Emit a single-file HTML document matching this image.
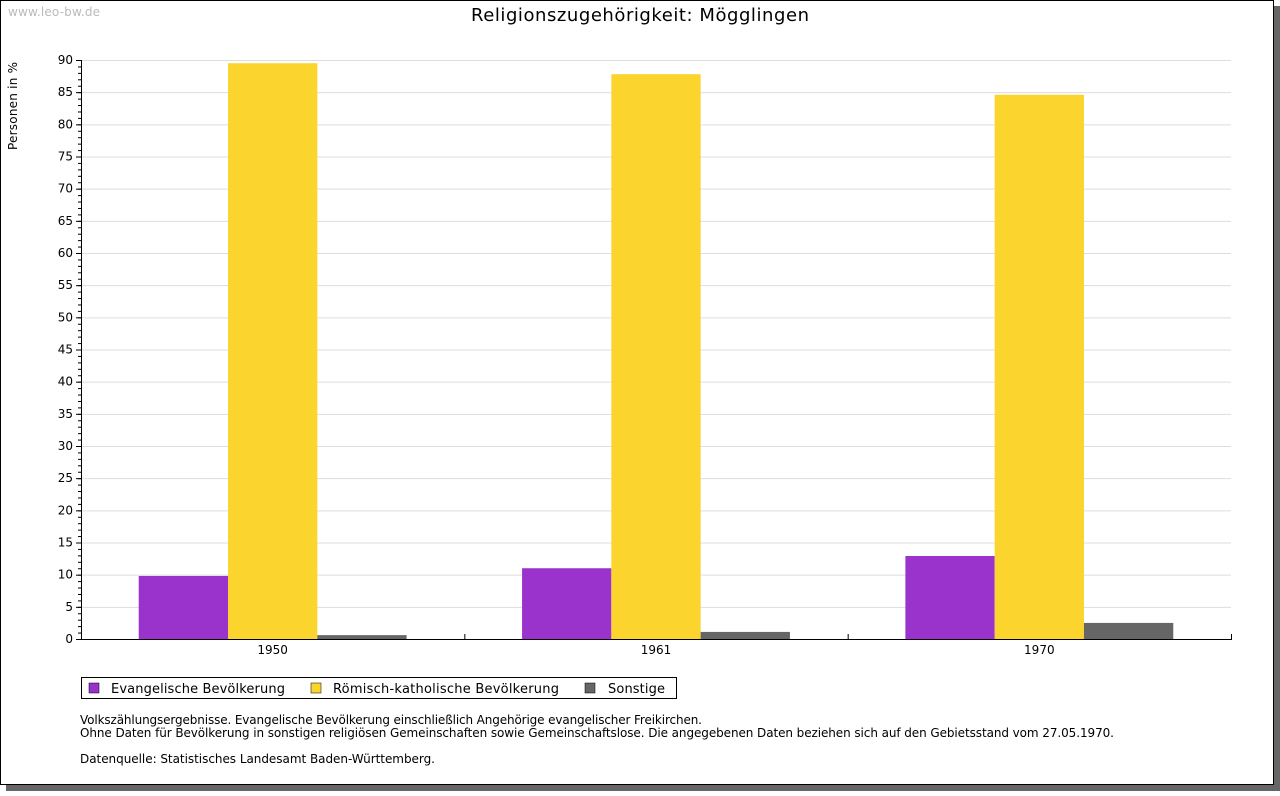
<!DOCTYPE html>
<html><head><meta charset="utf-8"><style>
body{margin:0;background:#fff;}
svg text{font-family:"DejaVu Sans","Liberation Sans",sans-serif;}
</style></head><body>
<svg id="c" width="1280" height="791" xmlns="http://www.w3.org/2000/svg">
<rect x="6" y="6" width="1274" height="785" fill="#666"/>
<rect x="0.5" y="0.5" width="1273" height="784" fill="#fff" stroke="#000"/>
<text x="8" y="16" font-size="12" fill="#bbb" textLength="92">www.leo-bw.de</text>
<text x="471" y="21" font-size="18" textLength="338">Religionszugehörigkeit: Mögglingen</text>
<text transform="translate(17,150) rotate(-90)" font-size="12" textLength="88">Personen in %</text>
<g id="grid"></g><g id="bars"></g><g id="axes"></g>
<rect x="81.5" y="677.5" width="595" height="21" fill="#fff" stroke="#000"/>
<rect x="89" y="683" width="10" height="10" fill="#9933cc" stroke="#000" stroke-width="0.5"/>
<text x="111" y="693" font-size="13" textLength="174">Evangelische Bevölkerung</text>
<rect x="311" y="683" width="10" height="10" fill="#fcd42e" stroke="#000" stroke-width="0.5"/>
<text x="333" y="693" font-size="13" textLength="226">Römisch-katholische Bevölkerung</text>
<rect x="585" y="683" width="10" height="10" fill="#666" stroke="#000" stroke-width="0.5"/>
<text x="608" y="693" font-size="13" textLength="57">Sonstige</text>
<g font-size="12">
<text x="80" y="724" textLength="622">Volkszählungsergebnisse. Evangelische Bevölkerung einschließlich Angehörige evangelischer Freikirchen.</text>
<text x="80" y="737" textLength="1034">Ohne Daten für Bevölkerung in sonstigen religiösen Gemeinschaften sowie Gemeinschaftslose. Die angegebenen Daten beziehen sich auf den Gebietsstand vom 27.05.1970.</text>
<text x="80" y="763" textLength="355">Datenquelle: Statistisches Landesamt Baden-Württemberg.</text>
</g>
</svg>
<script>
const categories=["1950","1961","1970"];
const evangelisch=[9.8,11.0,12.9];
const katholisch=[89.5,87.8,84.6];
const sonstige=[0.6,1.1,2.5];
const yTicks=[0,5,10,15,20,25,30,35,40,45,50,55,60,65,70,75,80,85,90];
const NS="http://www.w3.org/2000/svg";
const X0=81,X1=1231,Y0=639,Y1=60,YMAX=90;
const y=v=>Y0-(v/YMAX)*(Y0-Y1);
const bw=(X1-X0)/categories.length;
const x=i=>X0+i*bw;
function mk(p,t,a){const e=document.createElementNS(NS,t);for(const k in a)e.setAttribute(k,a[k]);document.getElementById(p).appendChild(e);return e;}
yTicks.forEach(v=>{
 if(v>0){const g=mk('grid','line',{x1:X0,x2:X1,y1:y(v)+.5,y2:y(v)+.5,stroke:'#ddd'});
 
 }
 mk('axes','line',{x1:X0-5,x2:X0,y1:y(v)+.5,y2:y(v)+.5,stroke:'#000'});
 const t=mk('axes','text',{x:X0-8,y:y(v)+4,'font-size':12,'text-anchor':'end'});t.textContent=v;
 
 
});
for(let v=0;v<=YMAX;v++)mk('axes','line',{x1:X0-3,x2:X0,y1:y(v)+.5,y2:y(v)+.5,stroke:'#000'});
mk('axes','line',{x1:X0+.5,x2:X0+.5,y1:Y1,y2:Y0,stroke:'#000'});
mk('axes','line',{x1:X0,x2:X1+1,y1:Y0+.5,y2:Y0+.5,stroke:'#000'});
const series=[[evangelisch,'#9933cc','evangelisch'],[katholisch,'#fcd42e','katholisch'],[sonstige,'#666','sonstige']];
const barW=89.3;
categories.forEach((c,i)=>{
 mk('axes','line',{x1:x(i+1)+.5,x2:x(i+1)+.5,y1:Y0-5,y2:Y0,stroke:'#000'});
 const t=mk('axes','text',{x:x(i)+bw/2,y:Y0+15,'font-size':12,'text-anchor':'middle'});t.textContent=c;
 
 
 const start=x(i)+bw/2-barW*1.5;
 series.forEach((s,j)=>{
  const r=mk('bars','rect',{x:start+j*barW,y:y(s[0][i]),width:barW,height:Y0-y(s[0][i]),fill:s[1]});
  
  
 });
});
</script>
</body></html>
